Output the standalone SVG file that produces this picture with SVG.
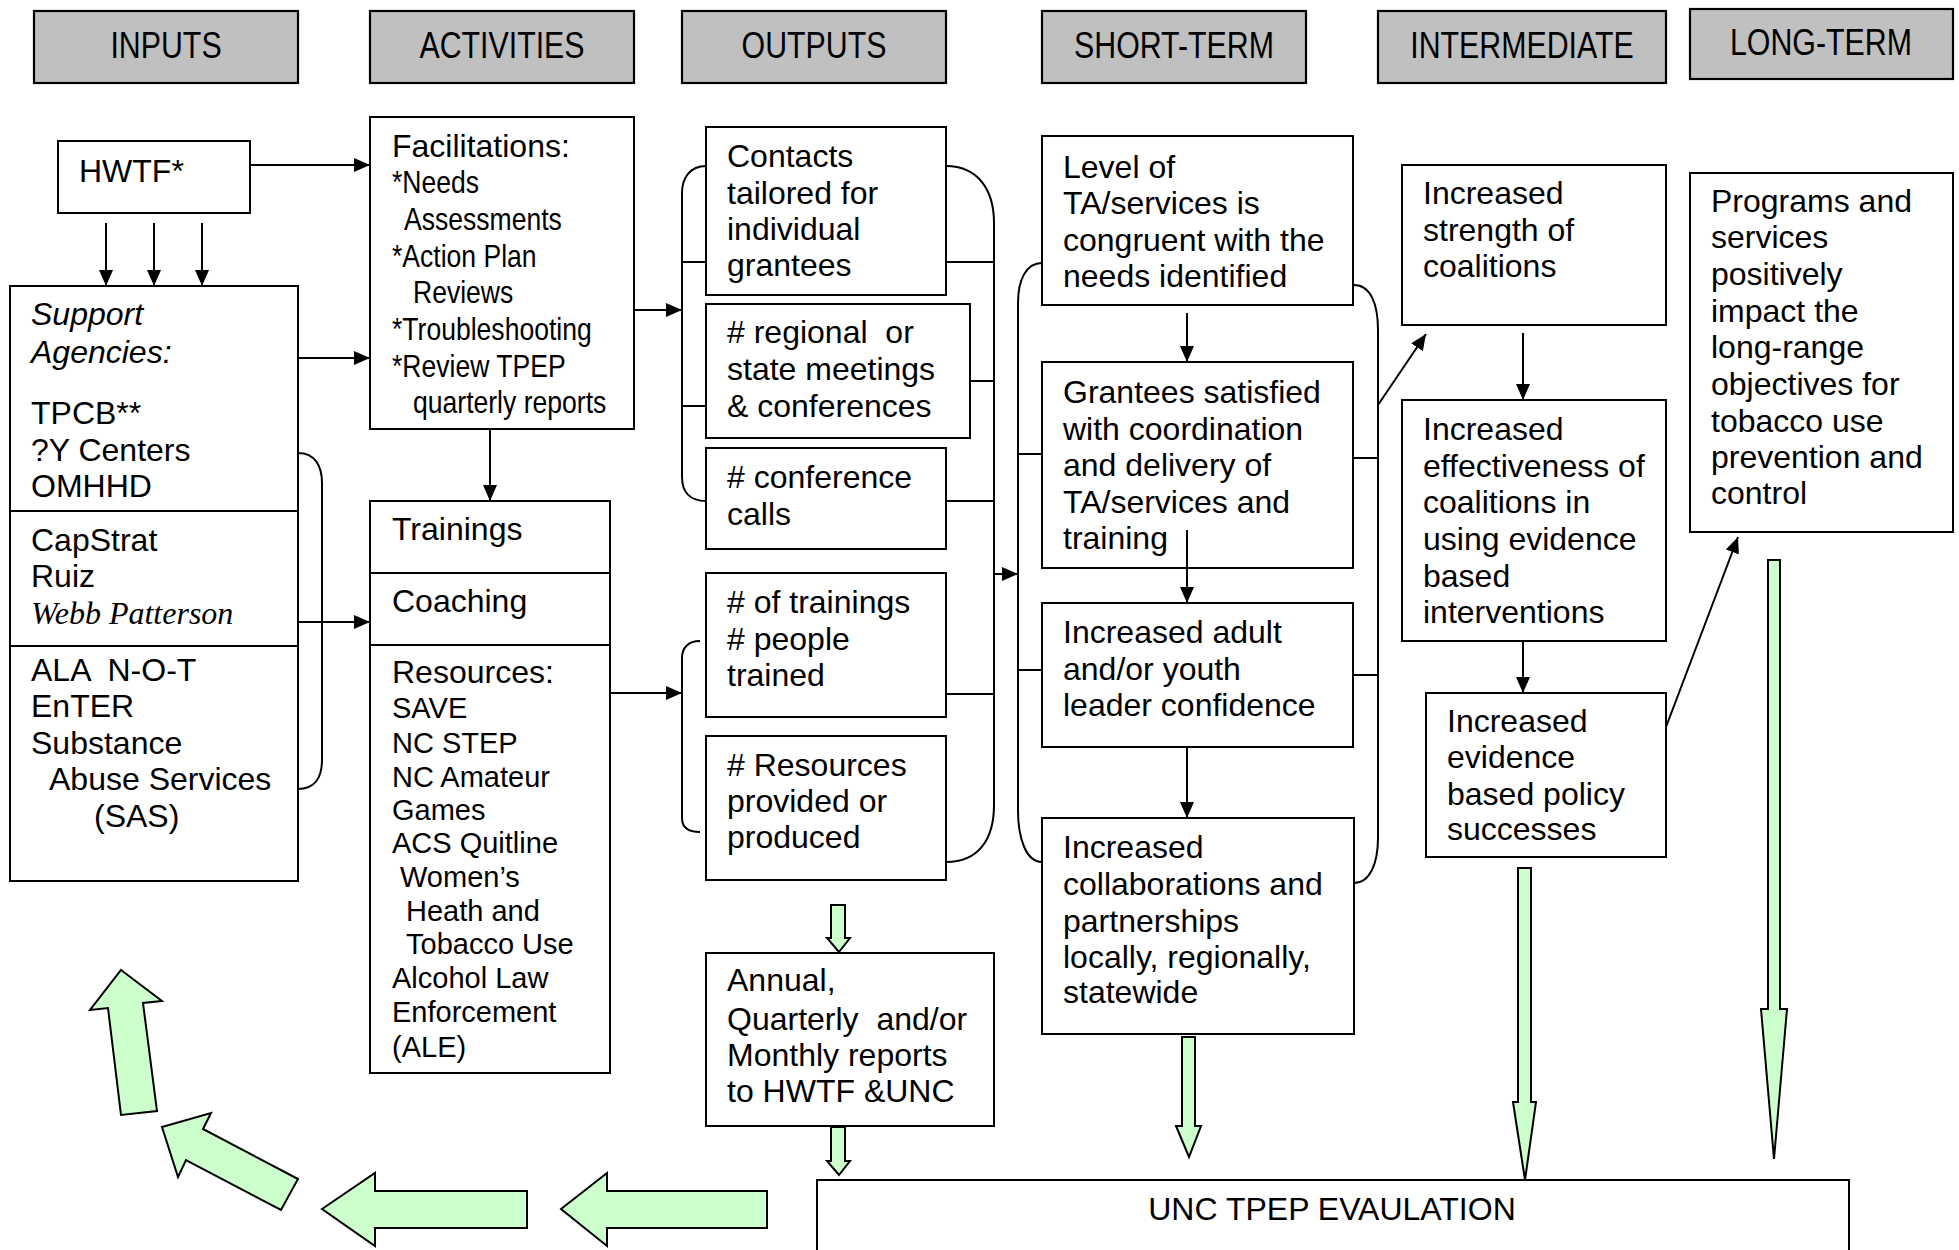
<svg xmlns="http://www.w3.org/2000/svg" width="1959" height="1250" viewBox="0 0 1959 1250">
<defs>
<marker id="ah" markerUnits="userSpaceOnUse" markerWidth="16" markerHeight="14" refX="16" refY="7" orient="auto"><path d="M0,0 L16,7 L0,14 z" fill="#000"/></marker>
<style>
.box{fill:#fff;stroke:#000;stroke-width:2}
.hdr{fill:#c0c0c0;stroke:#000;stroke-width:2.2}
.ht{font-family:"Liberation Sans",Arial,sans-serif;font-size:37px;text-anchor:middle;fill:#000}
.t{font-family:"Liberation Sans",Arial,sans-serif;font-size:32px;fill:#000}
.s{font-family:"Liberation Sans",Arial,sans-serif;font-size:29px;fill:#000}
.it{font-style:italic}
.tr{font-family:"Liberation Serif","Times New Roman",serif;font-size:32px;font-style:italic;fill:#000}
.ln{fill:none;stroke:#000;stroke-width:2}
.ar{fill:none;stroke:#000;stroke-width:2;marker-end:url(#ah)}
.g{fill:#ccffcc;stroke:#000;stroke-width:2;stroke-linejoin:miter}
</style>
</defs>
<rect width="1959" height="1250" fill="#fff"/>

<g id="headers">
<g id="h-inputs"><rect class="hdr" x="34" y="11" width="264" height="72"/><text class="ht" transform="translate(166,58) scale(0.82,1)">INPUTS</text></g>
<g id="h-activities"><rect class="hdr" x="370" y="11" width="264" height="72"/><text class="ht" transform="translate(502,58) scale(0.82,1)">ACTIVITIES</text></g>
<g id="h-outputs"><rect class="hdr" x="682" y="11" width="264" height="72"/><text class="ht" transform="translate(814,58) scale(0.82,1)">OUTPUTS</text></g>
<g id="h-short"><rect class="hdr" x="1042" y="11" width="264" height="72"/><text class="ht" transform="translate(1174,58) scale(0.82,1)">SHORT-TERM</text></g>
<g id="h-inter"><rect class="hdr" x="1378" y="11" width="288" height="72"/><text class="ht" transform="translate(1522,58) scale(0.82,1)">INTERMEDIATE</text></g>
<g id="h-long"><rect class="hdr" x="1690" y="9" width="263" height="70"/><text class="ht" transform="translate(1821,55) scale(0.82,1)">LONG-TERM</text></g>
</g>

<g id="hwtf"><rect class="box" x="58" y="141" width="192" height="72"/><text class="t" x="79" y="182">HWTF*</text></g>

<g id="support">
<rect class="box" x="10" y="286" width="288" height="595"/>
<line class="ln" x1="10" y1="511" x2="298" y2="511"/>
<line class="ln" x1="10" y1="646" x2="298" y2="646"/>
<text class="t it" x="31" y="325">Support</text>
<text class="t it" x="31" y="363">Agencies:</text>
<text class="t" x="31" y="424">TPCB**</text>
<text class="t" x="31" y="461">?Y Centers</text>
<text class="t" x="31" y="497">OMHHD</text>
<text class="t" x="31" y="551">CapStrat</text>
<text class="t" x="31" y="587">Ruiz</text>
<text class="tr" x="31" y="624">Webb Patterson</text>
<text class="t" x="31" y="681" xml:space="preserve">ALA  N-O-T</text>
<text class="t" x="31" y="717">EnTER</text>
<text class="t" x="31" y="754">Substance</text>
<text class="t" x="49" y="790">Abuse Services</text>
<text class="t" x="94" y="827">(SAS)</text>
</g>

<g id="facilitations">
<rect class="box" x="370" y="117" width="264" height="312"/>
<text class="t" x="392" y="157">Facilitations:</text>
<text class="t" transform="translate(392,193) scale(0.83,1)">*Needs</text>
<text class="t" transform="translate(404,230) scale(0.83,1)">Assessments</text>
<text class="t" transform="translate(392,267) scale(0.83,1)">*Action Plan</text>
<text class="t" transform="translate(413,303) scale(0.83,1)">Reviews</text>
<text class="t" transform="translate(392,340) scale(0.83,1)">*Troubleshooting</text>
<text class="t" transform="translate(392,377) scale(0.83,1)">*Review TPEP</text>
<text class="t" transform="translate(413,413) scale(0.83,1)">quarterly reports</text>
</g>

<g id="trainings">
<rect class="box" x="370" y="501" width="240" height="572"/>
<line class="ln" x1="370" y1="573" x2="610" y2="573"/>
<line class="ln" x1="370" y1="645" x2="610" y2="645"/>
<text class="t" x="392" y="540">Trainings</text>
<text class="t" x="392" y="612">Coaching</text>
<text class="t" x="392" y="683">Resources:</text>
<text class="s" x="392" y="718">SAVE</text>
<text class="s" x="392" y="753">NC STEP</text>
<text class="s" x="392" y="787">NC Amateur</text>
<text class="s" x="392" y="820">Games</text>
<text class="s" x="392" y="853">ACS Quitline</text>
<text class="s" x="400" y="887">Women’s</text>
<text class="s" x="406" y="921">Heath and</text>
<text class="s" x="406" y="954">Tobacco Use</text>
<text class="s" x="392" y="988">Alcohol Law</text>
<text class="s" x="392" y="1022">Enforcement</text>
<text class="s" x="392" y="1057">(ALE)</text>
</g>

<g id="contacts"><rect class="box" x="706" y="127" width="240" height="168"/>
<text class="t" x="727" y="167">Contacts</text><text class="t" x="727" y="204">tailored for</text><text class="t" x="727" y="240">individual</text><text class="t" x="727" y="276">grantees</text></g>
<g id="regional"><rect class="box" x="706" y="304" width="264" height="134"/>
<text class="t" x="727" y="343" xml:space="preserve"># regional  or</text><text class="t" x="727" y="380">state meetings</text><text class="t" x="727" y="417">&amp; conferences</text></g>
<g id="confcalls"><rect class="box" x="706" y="448" width="240" height="101"/>
<text class="t" x="727" y="488"># conference</text><text class="t" x="727" y="525">calls</text></g>
<g id="numtrainings"><rect class="box" x="706" y="573" width="240" height="144"/>
<text class="t" x="727" y="613"># of trainings</text><text class="t" x="727" y="650"># people</text><text class="t" x="727" y="686">trained</text></g>
<g id="numresources"><rect class="box" x="706" y="736" width="240" height="144"/>
<text class="t" x="727" y="776"># Resources</text><text class="t" x="727" y="812">provided or</text><text class="t" x="727" y="848">produced</text></g>
<g id="reports"><rect class="box" x="706" y="953" width="288" height="173"/>
<text class="t" x="727" y="991">Annual,</text><text class="t" x="727" y="1030" xml:space="preserve">Quarterly  and/or</text><text class="t" x="727" y="1066">Monthly reports</text><text class="t" x="727" y="1102">to HWTF &amp;UNC</text></g>

<g id="level"><rect class="box" x="1042" y="136" width="311" height="169"/>
<text class="t" x="1063" y="178">Level of</text><text class="t" x="1063" y="214">TA/services is</text><text class="t" x="1063" y="251">congruent with the</text><text class="t" x="1063" y="287">needs identified</text></g>
<g id="grantees"><rect class="box" x="1042" y="362" width="311" height="206"/>
<text class="t" x="1063" y="403">Grantees satisfied</text><text class="t" x="1063" y="440">with coordination</text><text class="t" x="1063" y="476">and delivery of</text><text class="t" x="1063" y="513">TA/services and</text><text class="t" x="1063" y="549">training</text></g>
<g id="adult"><rect class="box" x="1042" y="603" width="311" height="144"/>
<text class="t" x="1063" y="643">Increased adult</text><text class="t" x="1063" y="680">and/or youth</text><text class="t" x="1063" y="716">leader confidence</text></g>
<g id="collab"><rect class="box" x="1042" y="818" width="312" height="216"/>
<text class="t" x="1063" y="858">Increased</text><text class="t" x="1063" y="895">collaborations and</text><text class="t" x="1063" y="932">partnerships</text><text class="t" x="1063" y="968">locally, regionally,</text><text class="t" x="1063" y="1003">statewide</text></g>

<g id="strength"><rect class="box" x="1402" y="165" width="264" height="160"/>
<text class="t" x="1423" y="204">Increased</text><text class="t" x="1423" y="241">strength of</text><text class="t" x="1423" y="277">coalitions</text></g>
<g id="effect"><rect class="box" x="1402" y="400" width="264" height="241"/>
<text class="t" x="1423" y="440">Increased</text><text class="t" x="1423" y="477">effectiveness of</text><text class="t" x="1423" y="513">coalitions in</text><text class="t" x="1423" y="550">using evidence</text><text class="t" x="1423" y="587">based</text><text class="t" x="1423" y="623">interventions</text></g>
<g id="policy"><rect class="box" x="1426" y="693" width="240" height="164"/>
<text class="t" x="1447" y="732">Increased</text><text class="t" x="1447" y="768">evidence</text><text class="t" x="1447" y="805">based policy</text><text class="t" x="1447" y="840">successes</text></g>

<g id="programs"><rect class="box" x="1690" y="173" width="263" height="359"/>
<text class="t" x="1711" y="212">Programs and</text><text class="t" x="1711" y="248">services</text><text class="t" x="1711" y="285">positively</text><text class="t" x="1711" y="322">impact the</text><text class="t" x="1711" y="358">long-range</text><text class="t" x="1711" y="395">objectives for</text><text class="t" x="1711" y="432">tobacco use</text><text class="t" x="1711" y="468">prevention and</text><text class="t" x="1711" y="504">control</text></g>

<g id="unc"><rect class="box" x="817" y="1180" width="1032" height="90"/>
<text class="t" x="1332" y="1220" text-anchor="middle" font-size="31">UNC TPEP EVAULATION</text></g>

<g id="connectors">
<line class="ar" x1="250" y1="165" x2="370" y2="165"/>
<line class="ar" x1="106" y1="223" x2="106" y2="286"/>
<line class="ar" x1="154" y1="223" x2="154" y2="286"/>
<line class="ar" x1="202" y1="223" x2="202" y2="286"/>
<line class="ar" x1="298" y1="358" x2="370" y2="358"/>
<line class="ar" x1="298" y1="622" x2="370" y2="622"/>
<path class="ln" d="M298,453 C315,453 322,466 322,483 L322,760 C322,777 315,789 298,789"/>
<line class="ar" x1="490" y1="429" x2="490" y2="501"/>
<line class="ar" x1="634" y1="310" x2="682" y2="310"/>
<line class="ar" x1="610" y1="693" x2="682" y2="693"/>
<path class="ln" d="M706,166 C690,166 682,178 682,193 L682,477 C682,492 690,501 706,501"/>
<line class="ln" x1="682" y1="262" x2="706" y2="262"/>
<line class="ln" x1="682" y1="406" x2="706" y2="406"/>
<path class="ln" d="M700,641 C688,641 682,648 682,658 L682,818 C682,827 688,832 700,832"/>
<path class="ln" d="M946,166 C978,166 994,190 994,223 L994,805 C994,840 978,862 946,862"/>
<line class="ln" x1="946" y1="262" x2="994" y2="262"/>
<line class="ln" x1="970" y1="381" x2="994" y2="381"/>
<line class="ln" x1="946" y1="501" x2="994" y2="501"/>
<line class="ln" x1="946" y1="694" x2="994" y2="694"/>
<line class="ar" x1="994" y1="574" x2="1018" y2="574"/>
<path class="ln" d="M1042,263 C1026,263 1018,280 1018,303 L1018,810 C1018,838 1026,862 1042,862"/>
<line class="ln" x1="1018" y1="454" x2="1042" y2="454"/>
<line class="ln" x1="1018" y1="670" x2="1042" y2="670"/>
<path class="ln" d="M1354,285 C1370,285 1378,303 1378,330 L1378,838 C1378,863 1370,883 1354,883"/>
<line class="ln" x1="1354" y1="458" x2="1378" y2="458"/>
<line class="ln" x1="1354" y1="675" x2="1378" y2="675"/>
<line class="ar" x1="1187" y1="313" x2="1187" y2="362"/>
<line class="ar" x1="1187" y1="530" x2="1187" y2="603"/>
<line class="ar" x1="1187" y1="747" x2="1187" y2="818"/>
<line class="ar" x1="1378" y1="405" x2="1426" y2="334"/>
<line class="ar" x1="1523" y1="333" x2="1523" y2="400"/>
<line class="ar" x1="1523" y1="641" x2="1523" y2="693"/>
<line class="ar" x1="1666" y1="727" x2="1738" y2="537"/>
<polygon class="g" points="831,905 845,905 845,938 850,938 839,952 827,938 831,938"/>
<polygon class="g" points="831,1127 845,1127 845,1161 850,1161 839,1175 827,1161 831,1161"/>
<polygon class="g" points="1182,1037 1195,1037 1195,1126 1201,1126 1189,1157 1176,1126 1182,1126"/>
<polygon class="g" points="1518,868 1531,868 1531,1102 1536,1102 1525,1180 1513,1102 1518,1102"/>
<polygon class="g" points="1768,560 1780,560 1780,1009 1787,1009 1774,1159 1761,1009 1768,1009"/>
<polygon class="g" points="561,1209 607,1173 607,1191 767,1191 767,1228 607,1228 607,1246"/>
<polygon class="g" points="322,1209 375,1173 375,1191 527,1191 527,1228 375,1228 375,1246"/>
<polygon class="g" points="162,1127 211,1113 203,1129 298,1179 281,1210 186,1160 178,1177"/>
<polygon class="g" points="121,970 162,1001 143,1003 157,1111 121,1115 108,1008 90,1010"/>
</g>
</svg>
